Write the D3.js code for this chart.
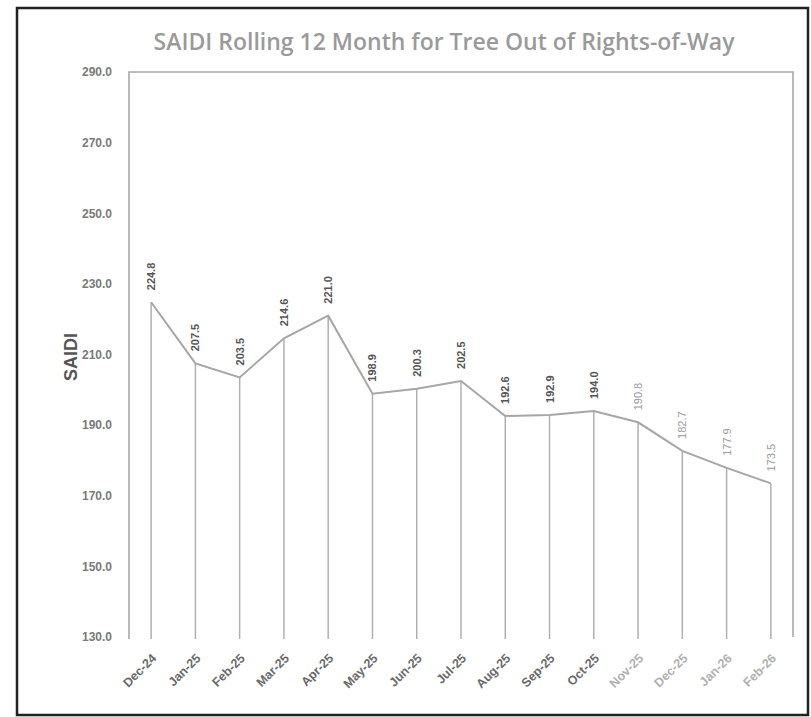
<!DOCTYPE html>
<html>
<head>
<meta charset="utf-8">
<script src="https://cdn.jsdelivr.net/npm/d3@7"></script>
<style>
  html, body { margin: 0; padding: 0; background: #fff; }
  svg { display: block; }
</style>
</head>
<body>
<div id="chart"></div>
<script>
const MONTHS = ["Dec-24", "Jan-25", "Feb-25", "Mar-25", "Apr-25", "May-25", "Jun-25", "Jul-25",
  "Aug-25", "Sep-25", "Oct-25", "Nov-25", "Dec-25", "Jan-26", "Feb-26"];
const SAIDI = [224.8, 207.5, 203.5, 214.6, 221.0, 198.9, 200.3, 202.5,
  192.6, 192.9, 194.0, 190.8, 182.7, 177.9, 173.5];
// last four months are drawn lighter
const LIGHT_MONTHS = ["Nov-25", "Dec-25", "Jan-26", "Feb-26"];
const Y_TICKS = [130, 150, 170, 190, 210, 230, 250, 270, 290];
const TITLE = "SAIDI Rolling 12 Month for Tree Out of Rights-of-Way";
const Y_TITLE = "SAIDI";

const W = 811, H = 717;
const PLOT = { LEFT: 129, RIGHT: 793, TOP: 72, BOTTOM: 637 };

const data = MONTHS.map((m, i) => ({ month: m, value: SAIDI[i] }));
const isLight = m => LIGHT_MONTHS.includes(m);

const svg = d3.select("#chart")
  .append("svg")
    .attr("width", W)
    .attr("height", H);

// scanned page frame
svg.append("rect")
  .attr("x", 17).attr("y", 8)
  .attr("width", 791).attr("height", 707)
  .attr("fill", "none")
  .attr("stroke", "#222")
  .attr("stroke-width", 2.5);

const x = d3.scaleBand()
  .domain(MONTHS)
  .range([PLOT.LEFT, PLOT.RIGHT])
  .padding(0);

const y = d3.scaleLinear()
  .domain([130, 290])
  .range([PLOT.BOTTOM, PLOT.TOP]);

const cx = d => x(d.month) + x.bandwidth() / 2;

// plot border: left, top, right
svg.append("path")
  .attr("d", `M${PLOT.LEFT},${PLOT.BOTTOM + 2}V${PLOT.TOP}H${PLOT.RIGHT}V${PLOT.BOTTOM}`)
  .attr("fill", "none")
  .attr("stroke", "#a8a8a8")
  .attr("stroke-width", 1.6);

// title
svg.append("text")
  .attr("x", 444)
  .attr("y", 50)
  .attr("text-anchor", "middle")
  .attr("font-family", "'Open Sans', Lato, sans-serif")
  .attr("font-size", 23)
  .attr("font-weight", 600)
  .attr("fill", "#9a9a9a")
  .text(TITLE);

// y axis
const yAxis = d3.axisLeft(y)
  .tickValues(Y_TICKS)
  .tickSize(0)
  .tickPadding(17)
  .tickFormat(d3.format(".1f"));

const yAxisGroup = svg.append("g")
  .attr("transform", `translate(${PLOT.LEFT}, 0)`)
  .call(yAxis);
yAxisGroup.select(".domain").remove();
yAxisGroup.selectAll("text")
  .attr("font-family", "'Liberation Sans', Arial, sans-serif")
  .attr("font-size", 12)
  .attr("font-weight", "bold")
  .attr("fill", "#7a7a7a");

svg.append("text")
  .attr("transform", "translate(77, 357) rotate(-90)")
  .attr("text-anchor", "middle")
  .attr("font-family", "'Liberation Sans', Arial, sans-serif")
  .attr("font-size", 18)
  .attr("font-weight", "bold")
  .attr("fill", "#555")
  .text(Y_TITLE);

// x axis
const xAxis = d3.axisBottom(x).tickSize(0).tickPadding(0);
const xAxisGroup = svg.append("g")
  .attr("transform", `translate(0, ${PLOT.BOTTOM})`)
  .call(xAxis);
xAxisGroup.select(".domain").remove();
xAxisGroup.selectAll("text")
  .attr("font-family", "'Liberation Sans', Arial, sans-serif")
  .attr("font-size", 12.5)
  .attr("font-weight", "bold")
  .attr("fill", d => isLight(d) ? "#b0b0b0" : "#6a6a6a")
  .attr("text-anchor", "end")
  .attr("dy", null)
  .attr("transform", "translate(6, 22) rotate(-45)");

// drop lines
svg.selectAll(".drop")
  .data(data)
  .join("line")
    .attr("class", "drop")
    .attr("x1", cx)
    .attr("x2", cx)
    .attr("y1", d => y(d.value))
    .attr("y2", y(130) + 2)
    .attr("stroke", "#b0b0b0")
    .attr("stroke-width", 1.5);

// line
const line = d3.line()
  .x(cx)
  .y(d => y(d.value));

svg.append("path")
  .datum(data)
  .attr("d", line)
  .attr("fill", "none")
  .attr("stroke", "#a6a6a6")
  .attr("stroke-width", 2);

// data labels
svg.selectAll(".val")
  .data(data)
  .join("text")
    .attr("class", "val")
    .attr("transform", d => `translate(${cx(d) + 4}, ${y(d.value) - 12}) rotate(-90)`)
    .attr("text-anchor", "start")
    .attr("font-family", "'Liberation Sans', Arial, sans-serif")
    .attr("font-size", 11)
    .attr("font-weight", d => isLight(d.month) ? "normal" : "bold")
    .attr("fill", d => isLight(d.month) ? "#9a9a9a" : "#555")
    .text(d => d3.format(".1f")(d.value));
</script>
</body>
</html>
